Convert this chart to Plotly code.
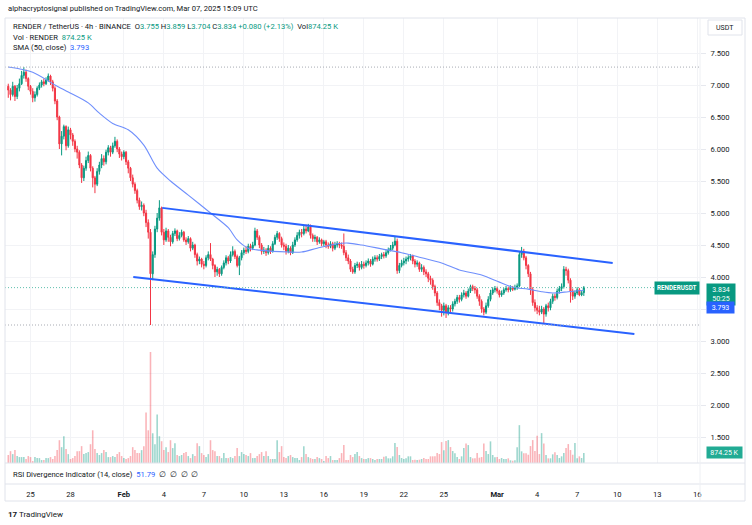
import plotly.graph_objects as go
import pandas as pd

# ---------------- DATA ----------------
first_open = 6.98
closes = [
    6.92, 6.85, 6.98, 6.82, 6.95, 7.02, 7.15, 7.20, 7.10, 6.98,
    6.90, 6.80, 6.85, 6.95, 7.00, 7.05, 7.02, 7.08, 7.14, 7.05,
    6.95, 6.75, 6.50, 6.08, 6.20, 6.35, 6.05, 6.30, 6.22, 6.12,
    6.00, 5.95, 5.75, 5.55, 5.70, 5.82, 5.90, 5.70, 5.55, 5.45,
    5.65, 5.75, 5.85, 5.80, 5.95, 6.02, 5.95, 6.05, 6.12, 6.00,
    5.92, 5.88, 5.95, 5.80, 5.70, 5.55, 5.45, 5.35, 5.20, 5.10,
    5.12, 5.00, 4.85, 4.70, 4.05, 4.35, 4.75, 4.92, 5.08, 4.70,
    4.58, 4.72, 4.62, 4.55, 4.68, 4.72, 4.60, 4.65, 4.70, 4.58,
    4.55, 4.60, 4.45, 4.50, 4.35, 4.25, 4.28, 4.20, 4.18, 4.30,
    4.35, 4.28, 4.18, 4.08, 4.12, 4.05, 4.15, 4.22, 4.30, 4.25,
    4.35, 4.40, 4.32, 4.18, 4.30, 4.38, 4.42, 4.40, 4.48, 4.45,
    4.50, 4.72, 4.62, 4.50, 4.40, 4.42, 4.38, 4.45, 4.40, 4.52,
    4.62, 4.68, 4.60, 4.50, 4.48, 4.40, 4.45, 4.38, 4.50, 4.58,
    4.65, 4.70, 4.68, 4.75, 4.72, 4.78, 4.65, 4.60, 4.62, 4.55,
    4.58, 4.52, 4.55, 4.50, 4.48, 4.52, 4.45, 4.50, 4.52, 4.50,
    4.48, 4.38, 4.30, 4.25, 4.12, 4.08, 4.18, 4.20, 4.15, 4.20,
    4.18, 4.22, 4.25, 4.20, 4.28, 4.30, 4.28, 4.32, 4.35, 4.33,
    4.38, 4.42, 4.45, 4.50, 4.56, 4.10, 4.18, 4.22, 4.25, 4.28,
    4.30, 4.33, 4.25, 4.20, 4.22, 4.12, 4.15, 4.08, 4.05, 3.98,
    3.95, 3.85, 3.75, 3.60, 3.55, 3.48, 3.55, 3.45, 3.52, 3.50,
    3.58, 3.62, 3.68, 3.65, 3.72, 3.75, 3.70, 3.78, 3.85, 3.82,
    3.80, 3.70, 3.62, 3.50, 3.45, 3.55, 3.65, 3.75, 3.80, 3.82,
    3.78, 3.72, 3.75, 3.80, 3.82, 3.80, 3.83, 3.81, 3.84, 3.86,
    4.35, 4.40, 4.30, 4.18, 4.05, 3.80, 3.60, 3.52, 3.48, 3.45,
    3.50, 3.42, 3.55, 3.52, 3.62, 3.70, 3.68, 3.78, 3.82, 3.85,
    4.12, 4.10, 3.95, 3.78, 3.70, 3.75, 3.80, 3.72, 3.755, 3.834,
]
highs = [
    7.02, 6.95, 7.05, 7.00, 7.00, 7.10, 7.22, 7.28, 7.24, 7.12,
    7.00, 6.95, 6.90, 6.98, 7.04, 7.08, 7.10, 7.12, 7.18, 7.16,
    7.08, 6.98, 6.78, 6.52, 6.28, 6.38, 6.37, 6.35, 6.33, 6.25,
    6.15, 6.05, 5.98, 5.78, 5.74, 5.88, 5.96, 5.92, 5.73, 5.58,
    5.70, 5.80, 5.92, 5.90, 5.99, 6.06, 6.05, 6.10, 6.19, 6.15,
    6.03, 5.96, 5.98, 5.97, 5.83, 5.72, 5.60, 5.48, 5.38, 5.24,
    5.18, 5.15, 5.05, 4.90, 4.75, 4.40, 4.80, 5.00, 5.20, 5.10,
    4.75, 4.77, 4.75, 4.66, 4.72, 4.76, 4.74, 4.70, 4.74, 4.72,
    4.62, 4.64, 4.62, 4.55, 4.52, 4.38, 4.32, 4.30, 4.25, 4.34,
    4.40, 4.53, 4.30, 4.20, 4.16, 4.14, 4.18, 4.26, 4.34, 4.33,
    4.40, 4.48, 4.43, 4.35, 4.33, 4.42, 4.46, 4.48, 4.52, 4.52,
    4.55, 4.77, 4.75, 4.65, 4.53, 4.47, 4.45, 4.50, 4.48, 4.56,
    4.66, 4.72, 4.70, 4.63, 4.54, 4.52, 4.50, 4.48, 4.55, 4.62,
    4.70, 4.74, 4.75, 4.80, 4.82, 4.83, 4.82, 4.68, 4.66, 4.64,
    4.62, 4.60, 4.58, 4.58, 4.54, 4.56, 4.55, 4.55, 4.56, 4.55,
    4.54, 4.68, 4.42, 4.35, 4.28, 4.16, 4.22, 4.24, 4.23, 4.25,
    4.24, 4.26, 4.29, 4.28, 4.32, 4.34, 4.34, 4.36, 4.38, 4.39,
    4.42, 4.46, 4.50, 4.55, 4.63, 4.60, 4.22, 4.27, 4.30, 4.32,
    4.34, 4.36, 4.35, 4.28, 4.26, 4.24, 4.20, 4.18, 4.12, 4.08,
    4.02, 3.98, 3.88, 3.78, 3.65, 3.58, 3.60, 3.58, 3.56, 3.56,
    3.62, 3.66, 3.72, 3.72, 3.76, 3.80, 3.78, 3.82, 3.88, 3.88,
    3.86, 3.83, 3.73, 3.65, 3.53, 3.60, 3.70, 3.80, 3.84, 3.86,
    3.85, 3.80, 3.79, 3.83, 3.86, 3.85, 3.87, 3.86, 3.88, 3.90,
    4.40, 4.47, 4.44, 4.33, 4.20, 4.08, 3.84, 3.65, 3.56, 3.55,
    3.55, 3.53, 3.58, 3.60, 3.66, 3.74, 3.74, 3.82, 3.86, 3.90,
    4.17, 4.16, 4.13, 3.98, 3.82, 3.79, 3.84, 3.83, 3.78, 3.859,
]
lows = [
    6.80, 6.76, 6.82, 6.75, 6.78, 6.90, 7.00, 7.10, 7.05, 6.92,
    6.85, 6.73, 6.74, 6.82, 6.92, 6.96, 6.98, 7.00, 7.05, 7.00,
    6.90, 6.70, 6.45, 6.00, 5.90, 6.15, 5.98, 6.02, 6.15, 6.05,
    5.95, 5.85, 5.70, 5.47, 5.50, 5.66, 5.78, 5.65, 5.40, 5.31,
    5.42, 5.60, 5.70, 5.74, 5.76, 5.90, 5.88, 5.92, 6.02, 5.95,
    5.86, 5.82, 5.84, 5.75, 5.62, 5.50, 5.40, 5.30, 5.15, 5.05,
    5.04, 4.95, 4.78, 4.60, 3.25, 3.95, 4.30, 4.70, 4.88, 4.65,
    4.50, 4.55, 4.55, 4.48, 4.52, 4.64, 4.56, 4.57, 4.62, 4.55,
    4.50, 4.52, 4.40, 4.42, 4.30, 4.18, 4.20, 4.15, 4.12, 4.15,
    4.26, 4.25, 4.12, 4.00, 4.02, 4.00, 4.02, 4.12, 4.18, 4.20,
    4.22, 4.32, 4.28, 4.15, 4.03, 4.26, 4.34, 4.36, 4.37, 4.40,
    4.42, 4.48, 4.58, 4.45, 4.35, 4.36, 4.33, 4.35, 4.36, 4.38,
    4.50, 4.58, 4.55, 4.46, 4.42, 4.35, 4.37, 4.34, 4.36, 4.47,
    4.55, 4.60, 4.62, 4.65, 4.68, 4.70, 4.60, 4.55, 4.55, 4.50,
    4.52, 4.48, 4.48, 4.45, 4.44, 4.45, 4.40, 4.42, 4.46, 4.45,
    4.44, 4.34, 4.25, 4.20, 4.08, 4.05, 4.05, 4.14, 4.10, 4.12,
    4.13, 4.15, 4.18, 4.16, 4.18, 4.24, 4.24, 4.25, 4.28, 4.29,
    4.30, 4.35, 4.40, 4.42, 4.48, 4.05, 4.06, 4.15, 4.18, 4.20,
    4.24, 4.26, 4.20, 4.15, 4.16, 4.08, 4.08, 4.03, 4.00, 3.92,
    3.88, 3.80, 3.70, 3.55, 3.48, 3.38, 3.40, 3.36, 3.40, 3.44,
    3.46, 3.54, 3.58, 3.60, 3.62, 3.68, 3.66, 3.68, 3.75, 3.78,
    3.74, 3.66, 3.55, 3.44, 3.40, 3.42, 3.52, 3.62, 3.72, 3.76,
    3.74, 3.68, 3.69, 3.72, 3.77, 3.76, 3.77, 3.78, 3.79, 3.80,
    3.84, 4.30, 4.26, 4.12, 4.00, 3.72, 3.55, 3.46, 3.42, 3.40,
    3.42, 3.28, 3.38, 3.46, 3.48, 3.58, 3.63, 3.65, 3.74, 3.78,
    3.82, 4.02, 3.90, 3.60, 3.64, 3.66, 3.72, 3.70, 3.70, 3.704,
]
volumes_k = [
    700, 1040, 780, 1130, 610, 520, 520, 520, 350, 610, 520, 170, 520, 430, 430, 260, 260, 430, 430, 520, 350, 610,
    1130, 2000, 1390, 2350, 1220, 780, 350, 430, 610, 1040, 1040, 1480, 780, 870, 960, 1650, 2870, 1220, 870, 700, 870, 1130, 960,
    520, 520, 610, 520, 780, 960, 610, 430, 350, 430, 610, 1390, 1130, 870, 870, 1130, 1480,
    4440, 2870, 9740, 2610, 1650, 4260, 2350, 1910, 1130, 1390,
    960, 2000, 1310, 1740, 700, 610, 700, 870, 960, 610,
    430, 780, 610, 1740, 1480, 870, 700, 520, 780, 2000,
    1130, 1040, 610, 610, 430, 870, 430, 430, 520, 430,
    610, 1310, 610, 960, 780, 700, 610, 870, 430, 430,
    610, 780, 960, 610, 1040, 610, 350, 350, 350, 2000,
    960, 1480, 520, 430, 610, 700, 520, 430, 430, 260,
    520, 1480, 780, 520, 430, 350, 350, 520, 430, 350,
    170, 610, 430, 610, 260, 260, 260, 430, 870, 1570,
    260, 260, 700, 520, 780, 960, 610, 430, 350, 350,
    430, 430, 350, 260, 350, 350, 350,
    550, 585, 410, 410, 585, 1750, 1400, 700, 437, 350,
    410, 585, 585, 262, 290, 262, 290, 350, 437, 350, 350,
    585, 585, 585, 874, 787, 1835, 1110, 1923, 2010, 1400,
    1050, 848, 524, 350, 585, 1311, 1722, 1573, 524, 410,
    410, 874, 463, 524, 1722, 1050, 787, 1897, 700, 498,
    524, 350, 437, 350, 350, 410, 236, 201, 236, 1372,
    3320, 1023, 848, 848, 725, 1486, 2010, 1050, 2386, 787,
    2622, 1722, 700, 410, 410, 760, 935, 700, 437, 585,
    874, 1311, 1660, 1136, 725, 1748, 410, 585, 437, 874.25,
]
sma_idx = [0, 11, 21, 27, 36, 41, 47, 54, 61, 67, 73, 81, 91, 99, 103, 108, 113, 126,
           132, 139, 148, 153, 159, 168, 177, 186, 195, 203, 213, 221, 227, 234, 240,
           245, 252, 259]
sma_vals = [7.28, 7.20, 7.00, 6.89, 6.72, 6.56, 6.40, 6.30, 6.06, 5.70, 5.50, 5.28,
            5.00, 4.77, 4.58, 4.45, 4.42, 4.39, 4.39, 4.45, 4.52, 4.53, 4.50, 4.44,
            4.38, 4.30, 4.22, 4.11, 4.03, 3.92, 3.84, 3.81, 3.77, 3.75, 3.77, 3.793]
upper_dates = ["2025-02-03 21:00", "2025-03-09 16:00"]
upper_prices = [5.08, 4.22]
lower_dates = ["2025-02-01 17:00", "2025-03-11 07:00"]
lower_prices = [4.00, 3.11]
x_tick_dates = ["2025-01-25", "2025-01-28", "2025-02-01", "2025-02-04", "2025-02-07",
                "2025-02-10", "2025-02-13", "2025-02-16", "2025-02-19", "2025-02-22",
                "2025-02-25", "2025-03-01", "2025-03-04", "2025-03-07", "2025-03-10",
                "2025-03-13", "2025-03-16"]
x_tick_text = ["25", "28", "<b>Feb</b>", "4", "7", "10", "13", "16", "19", "22", "25",
               "<b>Mar</b>", "4", "7", "10", "13", "16"]
price_ticks = [1.5, 2.0, 2.5, 3.0, 3.5, 4.0, 4.5, 5.0, 5.5, 6.0, 6.5, 7.0, 7.5]
price_tick_text = ["1.500", "2.000", "2.500", "3.000", "", "4.000", "4.500", "5.000",
                   "5.500", "6.000", "6.500", "7.000", "7.500"]

assert len(closes) == len(highs) == len(lows) == len(volumes_k), (len(closes), len(highs), len(lows), len(volumes_k))

times = pd.date_range("2025-01-23 08:00", periods=len(closes), freq="4h")
opens = [first_open] + closes[:-1]

UP = "#089981"
DOWN = "#f23645"
BLUE = "#2962ff"
TXT = "#131722"
GRID = "#f2f3f6"
BORDER = "#e0e3eb"
FONT = "Roboto"
FS = 7.6

# ---------------- layout geometry ----------------
W, H = 752, 525
L, R, T, B = 5, 700, 18, 484       # plot area pixels
MAIN_BOTTOM = 463
YMIN = 4 - (MAIN_BOTTOM - 277) / 64
YMAX = 4 + (277 - T) / 64
VMAX = max(volumes_k) * (MAIN_BOTTOM - T) / 111.0


def px(x):
    return (x - L) / (R - L)


def py(y):
    return (B - y) / (B - T)


fig = go.Figure()

vol_colors = ["rgba(8,153,129,0.40)" if c >= o else "rgba(242,54,69,0.38)"
              for o, c in zip(opens, closes)]
fig.add_trace(go.Bar(x=times, y=volumes_k, marker=dict(color=vol_colors, line=dict(width=0)),
                     yaxis="y2", showlegend=False))

fig.add_trace(go.Candlestick(
    x=times, open=opens, high=highs, low=lows, close=closes,
    increasing=dict(line=dict(color=UP, width=1), fillcolor=UP),
    decreasing=dict(line=dict(color=DOWN, width=1), fillcolor=DOWN),
    whiskerwidth=0, showlegend=False))

fig.add_trace(go.Scatter(x=[times[i] for i in sma_idx], y=sma_vals, mode="lines",
                         line=dict(color="#6f8ffc", width=1.1, shape="spline", smoothing=0.8),
                         showlegend=False))

fig.add_trace(go.Scatter(x=pd.to_datetime(upper_dates), y=upper_prices, mode="lines",
                         line=dict(color=BLUE, width=2), showlegend=False))
fig.add_trace(go.Scatter(x=pd.to_datetime(lower_dates), y=lower_prices, mode="lines",
                         line=dict(color=BLUE, width=2), showlegend=False))

x_start = pd.Timestamp("2025-01-25") - pd.Timedelta(days=(30.5 - L) / 13.333)
x_end = pd.Timestamp("2025-01-25") + pd.Timedelta(days=(R - 30.5) / 13.333)

shapes = []
# dotted lines: visible high / low and last price
for val, col in [(max(highs), "#a8abb3"), (min(lows), "#a8abb3"), (closes[-1], "#5fbfae")]:
    shapes.append(dict(type="line", xref="paper", yref="y", x0=0, x1=1, y0=val, y1=val,
                       line=dict(color=col, width=1, dash="1px,2px")))
# frame and separators
shapes.append(dict(type="rect", xref="paper", yref="paper", x0=px(5), x1=px(745),
                   y0=py(501), y1=py(18), line=dict(color=BORDER, width=1)))
for yy in (MAIN_BOTTOM, B):
    shapes.append(dict(type="line", xref="paper", yref="paper", x0=px(5), x1=px(745),
                       y0=py(yy), y1=py(yy), line=dict(color=BORDER, width=1)))
shapes.append(dict(type="line", xref="paper", yref="paper", x0=1, x1=1,
                   y0=py(501), y1=py(18), line=dict(color="#eef0f4", width=1)))
# USDT box
shapes.append(dict(type="rect", xref="paper", yref="paper", x0=px(708), x1=px(742),
                   y0=py(35), y1=py(20), line=dict(color=BORDER, width=1), fillcolor="white"))

ann = []
ann.append(dict(text="alphacryptosignal published on TradingView.com, Mar 07, 2025 15:09 UTC",
                x=px(6), y=py(8), xref="paper", yref="paper", xanchor="left", yanchor="middle",
                showarrow=False, font=dict(size=FS, color=TXT, family=FONT)))


def g(v):
    return f"<span style='color:{UP}'>{v}</span>"


line1 = ("RENDER / TetherUS · 4h · BINANCE  O" + g(f"{opens[-1]:.3f}") + " H" + g(f"{highs[-1]:.3f}")
         + " L" + g(f"{lows[-1]:.3f}") + " C" + g(f"{closes[-1]:.3f}") + " " + g("+0.080 (+2.13%)")
         + "  Vol" + g(f"{volumes_k[-1]:.2f} K"))
line2 = "Vol · RENDER  " + g(f"{volumes_k[-1]:.2f} K")
line3 = f"SMA (50, close)  <span style='color:{BLUE}'>{sma_vals[-1]:.3f}</span>"
for txt, yy in [(line1, 26), (line2, 37), (line3, 48)]:
    ann.append(dict(text=txt, x=px(11), y=py(yy), xref="paper", yref="paper", xanchor="left",
                    yanchor="middle", showarrow=False, font=dict(size=FS, color=TXT, family=FONT)))

ann.append(dict(text=f"RSI Divergence Indicator (14, close)  <span style='color:{BLUE}'>51.79</span>  ∅  ∅  ∅  ∅",
                x=px(11), y=py(474), xref="paper", yref="paper", xanchor="left", yanchor="middle",
                showarrow=False, font=dict(size=FS, color=TXT, family=FONT)))
ann.append(dict(text="<b>17</b> TradingView", x=px(6), y=py(514), xref="paper", yref="paper",
                xanchor="left", yanchor="middle", showarrow=False,
                font=dict(size=8, color=TXT, family=FONT)))
ann.append(dict(text="USDT", x=px(725), y=py(27.5), xref="paper", yref="paper", xanchor="center",
                yanchor="middle", showarrow=False, font=dict(size=7, color=TXT, family=FONT)))
# price tags
ann.append(dict(text="<b>RENDERUSDT</b>", x=px(700), y=closes[-1], xref="paper", yref="y",
                xanchor="right", yanchor="middle", showarrow=False, bgcolor=UP, borderpad=2,
                font=dict(size=6.3, color="white", family=FONT)))
ann.append(dict(text=f"{closes[-1]:.3f}<br>50:25", x=px(706), y=closes[-1], xref="paper", yref="y",
                xanchor="left", yanchor="top", yshift=5, showarrow=False, bgcolor=UP, borderpad=2,
                width=24, align="center", font=dict(size=7, color="white", family=FONT)))
ann.append(dict(text=f"{sma_vals[-1]:.3f}", x=px(706), y=py(307), xref="paper", yref="paper",
                xanchor="left", yanchor="middle", showarrow=False, bgcolor=BLUE, borderpad=1.5,
                width=24, align="center", font=dict(size=7, color="white", family=FONT)))
ann.append(dict(text=f"{volumes_k[-1]:.2f} K", x=px(706), y=py(452.5), xref="paper", yref="paper",
                xanchor="left", yanchor="middle", showarrow=False, bgcolor="#22ab94", borderpad=1.5,
                width=32, align="center", font=dict(size=7, color="white", family=FONT)))

fig.update_layout(
    width=W, height=H,
    margin=dict(l=L, r=W - R, t=T, b=H - B, pad=0),
    paper_bgcolor="white", plot_bgcolor="white",
    bargap=0.3,
    showlegend=False,
    font=dict(family=FONT, size=FS, color=TXT),
    xaxis=dict(type="date", range=[x_start, x_end], tickvals=pd.to_datetime(x_tick_dates),
               ticktext=x_tick_text, showgrid=True, gridcolor=GRID, gridwidth=1,
               zeroline=False, showline=False, ticks="", anchor="free", position=0,
               rangeslider=dict(visible=False), tickfont=dict(size=FS, color=TXT, family=FONT),
               ticklabelstandoff=4),
    yaxis=dict(domain=[py(MAIN_BOTTOM), 1], range=[YMIN, YMAX], side="right",
               tickvals=price_ticks, ticktext=price_tick_text, showgrid=True, gridcolor=GRID,
               zeroline=False, showline=False, ticks="outside", ticklen=5, tickcolor="#e6e8ee",
               tickfont=dict(size=FS, color=TXT, family=FONT), ticklabelstandoff=3,
               automargin=False),
    yaxis2=dict(overlaying="y", range=[0, VMAX], visible=False, showgrid=False),
    shapes=shapes,
    annotations=ann,
    hovermode=False,
)

fig.write_html("out.html")
